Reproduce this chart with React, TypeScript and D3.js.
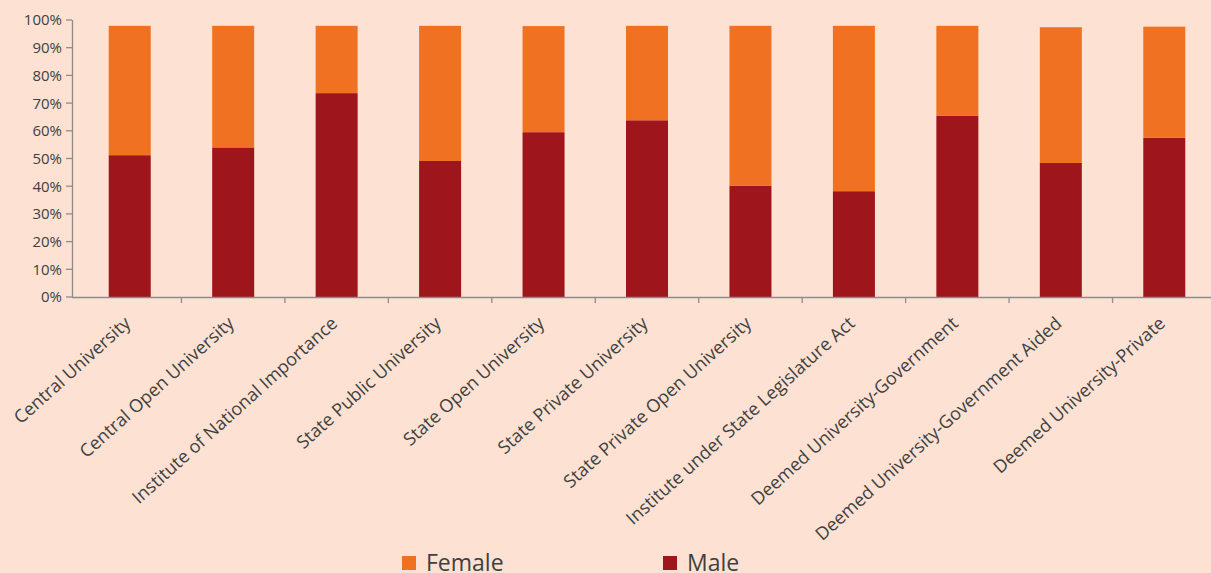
import React from "react";
import * as d3 from "d3";

const categories = [
  "Central University",
  "Central Open University",
  "Institute of National Importance",
  "State Public University",
  "State Open University",
  "State Private University",
  "State Private Open University",
  "Institute under State Legislature Act",
  "Deemed University-Government",
  "Deemed University-Government Aided",
  "Deemed University-Private",
];
const male = [51.2, 54.0, 73.6, 49.1, 59.5, 63.8, 40.1, 38.2, 65.5, 48.4, 57.5];
const female = [46.7, 43.9, 24.3, 48.8, 38.3, 34.1, 57.8, 59.7, 32.4, 49.0, 40.1];
const yTicks = [0, 10, 20, 30, 40, 50, 60, 70, 80, 90, 100];

const W = 1211;
const H = 573;
const BG = "#fde2d3";
const ORANGE = "#f07122";
const RED = "#9e151b";
const AXIS = "#8c8c8c";
const TEXT = "#404040";
const FONT = "'Open Sans', sans-serif";

export default function App() {
  const xb = d3.scaleBand<string>().domain(categories).range([78, 1216]);
  const y = d3.scaleLinear().domain([0, 100]).range([297, 20]);
  const y0 = y(0);
  const bw = 42;
  return (
    <svg width={W} height={H} style={{ position: "absolute", left: 0, top: 0 }}>
      <rect x={0} y={0} width={W} height={H} fill={BG} />
      {categories.map((c, i) => {
        const cx = xb(c)! + xb.bandwidth() / 2;
        return (
          <g key={c}>
            <rect x={cx - bw / 2} y={y(male[i])} width={bw} height={y0 - y(male[i])} fill={RED} />
            <rect x={cx - bw / 2} y={y(male[i] + female[i])} width={bw} height={y(male[i]) - y(male[i] + female[i])} fill={ORANGE} />
          </g>
        );
      })}
      <line x1={72.5} x2={72.5} y1={y(100)} y2={y0} stroke={AXIS} strokeWidth={1.3} />
      <line x1={72} x2={W} y1={y0 + 0.5} y2={y0 + 0.5} stroke={AXIS} strokeWidth={1.3} />
      {yTicks.map((t) => (
        <g key={t}>
          <line x1={66} x2={72} y1={y(t)} y2={y(t)} stroke={AXIS} strokeWidth={1.3} />
          <text x={62} y={y(t)} dy="0.36em" textAnchor="end" fontFamily={FONT} fontSize={15} fill={TEXT}>
            {t}%
          </text>
        </g>
      ))}
      {categories.slice(1).map((c) => (
        <line key={c} x1={xb(c)!} x2={xb(c)!} y1={y0} y2={y0 + 6} stroke={AXIS} strokeWidth={1.3} />
      ))}
      {categories.map((c) => {
        const cx = xb(c)! + xb.bandwidth() / 2;
        return (
          <text
            key={c}
            transform={`translate(${cx + 2},${y0 + 28}) rotate(-42)`}
            textAnchor="end"
            fontFamily={FONT}
            fontSize={18}
            fill={TEXT}
          >
            {c}
          </text>
        );
      })}
      <rect x={402} y={556} width={14} height={14} fill={ORANGE} />
      <text x={426} y={571} fontFamily={FONT} fontSize={23} fill={TEXT}>Female</text>
      <rect x={663} y={556} width={14} height={14} fill={RED} />
      <text x={687} y={571} fontFamily={FONT} fontSize={23} fill={TEXT}>Male</text>
    </svg>
  );
}
